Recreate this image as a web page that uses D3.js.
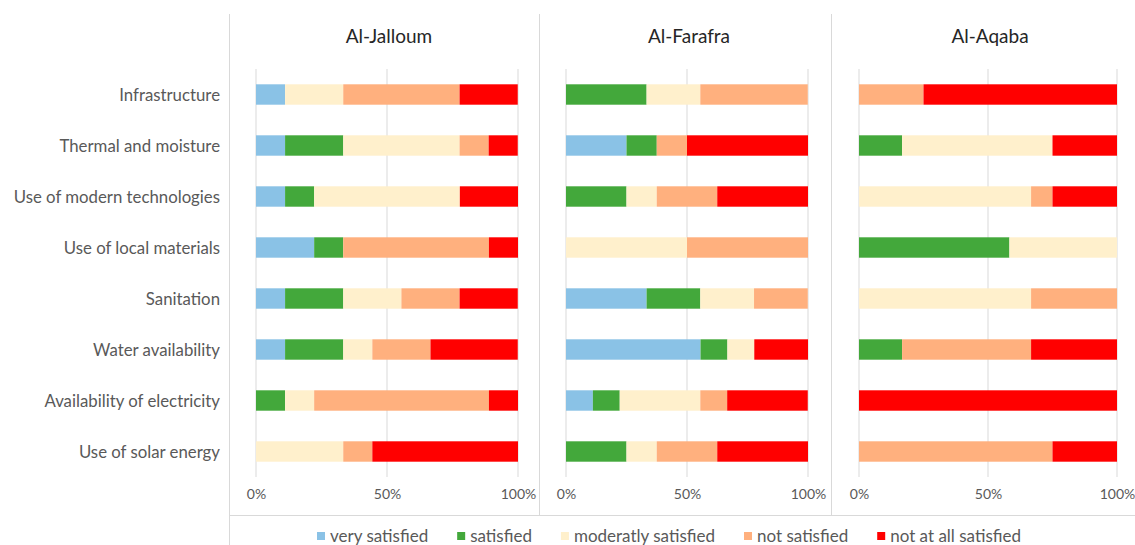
<!DOCTYPE html>
<html>
<head>
<meta charset="utf-8">
<script src="https://cdn.jsdelivr.net/npm/d3@7"></script>
<style>
  body { margin: 0; background: #fff; }
  text { font-family: Lato, "Open Sans", sans-serif; }
</style>
</head>
<body>
<div id="chart"></div>
<script>
// data
const categories = [
  "Infrastructure",
  "Thermal and moisture",
  "Use of modern technologies",
  "Use of local materials",
  "Sanitation",
  "Water availability",
  "Availability of electricity",
  "Use of solar energy"
];
const levels = ["very satisfied", "satisfied", "moderatly satisfied", "not satisfied", "not at all satisfied"];
const sites = ["Al-Jalloum", "Al-Farafra", "Al-Aqaba"];
const tickValues = [0, 50, 100];

// percentages per category, in order of levels
const jalloum = [
  [11.1, 0, 22.2, 44.4, 22.2],
  [11.1, 22.2, 44.4, 11.1, 11.1],
  [11.1, 11.1, 55.6, 0, 22.2],
  [22.2, 11.1, 0, 55.6, 11.1],
  [11.1, 22.2, 22.2, 22.2, 22.2],
  [11.1, 22.2, 11.1, 22.2, 33.3],
  [0, 11.1, 11.1, 66.7, 11.1],
  [0, 0, 33.3, 11.1, 55.6]
];
const farafra = [
  [0, 33.3, 22.2, 44.4, 0],
  [25, 12.5, 0, 12.5, 50],
  [0, 25, 12.5, 25, 37.5],
  [0, 0, 50, 50, 0],
  [33.3, 22.2, 22.2, 22.2, 0],
  [55.6, 11.1, 11.1, 0, 22.2],
  [11.1, 11.1, 33.3, 11.1, 33.3],
  [0, 25, 12.5, 25, 37.5]
];
const aqaba = [
  [0, 0, 0, 25, 75],
  [0, 16.7, 58.3, 0, 25],
  [0, 0, 66.7, 8.3, 25],
  [0, 58.3, 41.7, 0, 0],
  [0, 0, 66.7, 33.3, 0],
  [0, 16.7, 0, 50, 33.3],
  [0, 0, 0, 0, 100],
  [0, 0, 0, 75, 25]
];
const siteData = [jalloum, farafra, aqaba];

// layout
const width = 1135;
const height = 545;
const panelEdges = [229, 539, 831, 1135];
const plotRanges = [[256, 518], [566, 808], [859, 1117]];
const plotTop = 69;
const plotBottom = 477;
const lineColor = "#d9d9d9";
const textColor = "#595959";

const color = d3.scaleOrdinal()
  .domain(levels)
  .range(["#8AC2E6", "#43A83B", "#FFF0CC", "#FFB07E", "#FF0000"]);

const y = d3.scaleBand()
  .domain(categories)
  .range([plotTop, plotBottom])
  .paddingInner(0.6)
  .paddingOuter(0.3);

const svg = d3.select("#chart")
  .append("svg")
  .attr("width", width)
  .attr("height", height);

// frame lines
svg.selectAll(".divider")
  .data(panelEdges.slice(0, 3))
  .enter()
  .append("line")
  .attr("x1", d => d + 0.5)
  .attr("x2", d => d + 0.5)
  .attr("y1", 14)
  .attr("y2", (d, i) => i === 0 ? height : 515)
  .attr("stroke", lineColor);

svg.append("line")
  .attr("x1", panelEdges[0])
  .attr("x2", width)
  .attr("y1", 515.5)
  .attr("y2", 515.5)
  .attr("stroke", lineColor);

// category labels
svg.selectAll(".cat")
  .data(categories)
  .enter()
  .append("text")
  .attr("x", 220)
  .attr("y", d => y(d) + y.bandwidth() / 2)
  .attr("dy", "0.4em")
  .attr("text-anchor", "end")
  .attr("fill", textColor)
  .style("font-size", "16.8px")
  .text(d => d);

const stack = d3.stack()
  .keys(d3.range(levels.length))
  .value((row, k) => row[k]);

sites.forEach((site, s) => {
  const x = d3.scaleLinear().domain([0, 100]).range(plotRanges[s]);
  const g = svg.append("g");

  // gridlines
  g.selectAll(".grid")
    .data(tickValues)
    .enter()
    .append("line")
    .attr("x1", d => x(d))
    .attr("x2", d => x(d))
    .attr("y1", plotTop)
    .attr("y2", plotBottom)
    .attr("stroke", lineColor);

  // title
  g.append("text")
    .attr("x", (plotRanges[s][0] + plotRanges[s][1]) / 2 + 2)
    .attr("y", 36)
    .attr("dy", "0.35em")
    .attr("text-anchor", "middle")
    .attr("fill", "#262626")
    .style("font-size", "19px")
    .text(site);

  // bars
  const series = stack(siteData[s]);
  const layer = g.selectAll(".layer")
    .data(series)
    .enter()
    .append("g")
    .attr("fill", d => color(levels[d.key]));

  layer.selectAll("rect")
    .data(d => d.map((v, i) => ({ v: v, cat: categories[i] })))
    .enter()
    .append("rect")
    .attr("x", d => x(d.v[0]))
    .attr("width", d => x(d.v[1]) - x(d.v[0]))
    .attr("y", d => y(d.cat))
    .attr("height", y.bandwidth());

  // axis
  const axis = g.append("g")
    .attr("transform", "translate(0," + plotBottom + ")")
    .call(d3.axisBottom(x).tickValues(tickValues).tickSize(0).tickPadding(12).tickFormat(d => d + "%"));
  axis.select(".domain").remove();
  axis.selectAll("text")
    .attr("fill", textColor)
    .style("font-size", "14px")
    .style("font-family", "Lato, sans-serif");
});

// legend
const legend = svg.append("g");
let lx = 0;
levels.forEach((lv) => {
  const item = legend.append("g").attr("transform", "translate(" + lx + ",0)");
  item.append("rect")
    .attr("x", 0)
    .attr("y", -4)
    .attr("width", 8)
    .attr("height", 8)
    .attr("fill", color(lv));
  const t = item.append("text")
    .attr("x", 13)
    .attr("dy", "0.35em")
    .attr("fill", textColor)
    .style("font-size", "17px")
    .text(lv);
  lx += 13 + t.node().getComputedTextLength() + 29;
});
lx -= 29;
legend.attr("transform", "translate(" + (669 - lx / 2) + ",536)");
</script>
</body>
</html>
